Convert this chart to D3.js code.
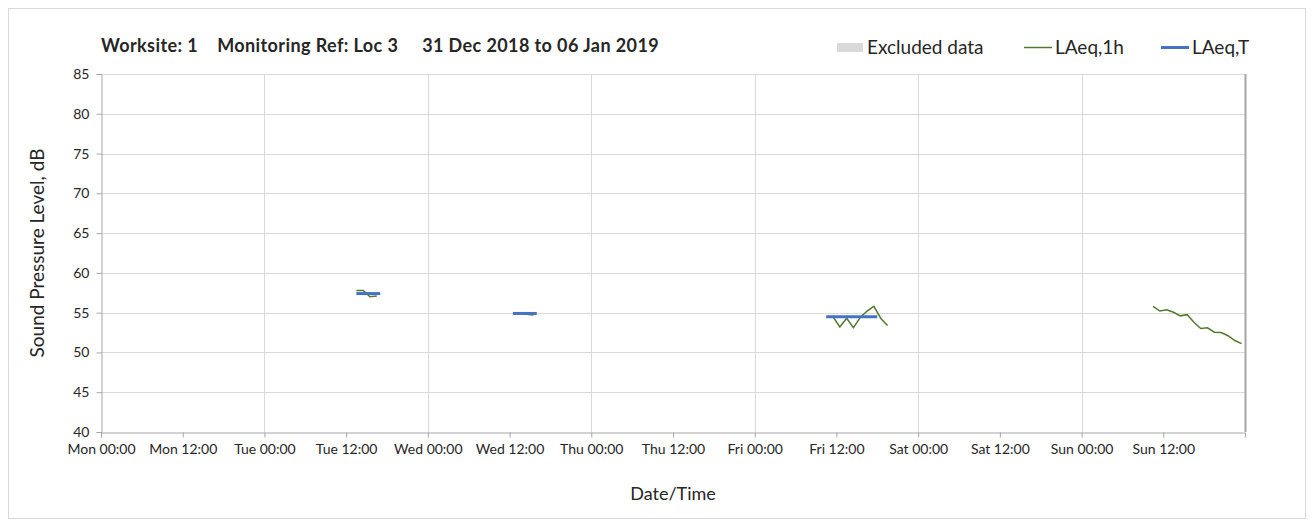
<!DOCTYPE html>
<meta charset="UTF-8">
<style>
  body { margin: 0; background: #fff; }
  svg text { font-family: Lato, "Open Sans", sans-serif; fill: #262626; }
  .grid line { stroke: #d9d9d9; stroke-width: 1px; }
</style>
<body>
<svg id="chart" width="1314" height="527"></svg>

<script src="https://d3js.org/d3.v7.min.js"></script>
<script>

// ---- data ----
var weekStart = "2018-12-31T00:00";
var weekEnd = "2019-01-07T00:00";
var yTicks = [40, 45, 50, 55, 60, 65, 70, 75, 80, 85];

// hourly LAeq,1h (stamped at the middle of the hour)
var tueTimes = ["2019-01-01T13:30", "2019-01-01T14:30", "2019-01-01T15:30", "2019-01-01T16:30"];
var tueLevels = [57.8, 57.8, 57.0, 57.1];
var wedTimes = ["2019-01-02T12:30", "2019-01-02T13:30", "2019-01-02T14:30", "2019-01-02T15:30"];
var wedLevels = [55.0, 54.95, 54.8, 54.7];
var friTimes = ["2019-01-04T11:30", "2019-01-04T12:30", "2019-01-04T13:30", "2019-01-04T14:30",
                "2019-01-04T15:30", "2019-01-04T16:30", "2019-01-04T17:30", "2019-01-04T18:30",
                "2019-01-04T19:30"];
var friLevels = [54.5, 53.2, 54.3, 53.1, 54.4, 55.2, 55.8, 54.3, 53.4];
var sunTimes = ["2019-01-06T10:30", "2019-01-06T11:30", "2019-01-06T12:30", "2019-01-06T13:30",
                "2019-01-06T14:30", "2019-01-06T15:30", "2019-01-06T16:30", "2019-01-06T17:30",
                "2019-01-06T18:30", "2019-01-06T19:30", "2019-01-06T20:30", "2019-01-06T21:30",
                "2019-01-06T22:30", "2019-01-06T23:30"];
var sunLevels = [55.8, 55.2, 55.35, 55.05, 54.6, 54.75, 53.8, 53.0, 53.1, 52.55, 52.5, 52.1, 51.5, 51.1];

// LAeq,T over each monitoring period
var periodStarts = ["2019-01-01T13:30", "2019-01-02T12:30", "2019-01-04T10:30"];
var periodEnds = ["2019-01-01T17:00", "2019-01-02T16:00", "2019-01-04T18:00"];
var periodLevels = [57.4, 54.9, 54.5];

var title = "Worksite: 1    Monitoring Ref: Loc 3     31 Dec 2018 to 06 Jan 2019";
var legendNames = ["Excluded data", "LAeq,1h", "LAeq,T"];
// ---------------------------------------

var parse = d3.timeParse("%Y-%m-%dT%H:%M");
var dayNames = ["Sun", "Mon", "Tue", "Wed", "Thu", "Fri", "Sat"];

var margin = {left: 101, right: 69, top: 74, bottom: 95};
var width = 1314 - margin.left - margin.right,
    height = 527 - margin.top - margin.bottom;

var svg = d3.select("#chart");

// outer frame
svg.append("rect")
    .attr("x", 8.5).attr("y", 8.5)
    .attr("width", 1297).attr("height", 510)
    .attr("fill", "none").attr("stroke", "#d9d9d9");

var g = svg.append("g")
    .attr("transform", "translate(" + margin.left + "," + margin.top + ")");

var x = d3.scaleTime()
    .domain([parse(weekStart), parse(weekEnd)])
    .range([0, width]);

var y = d3.scaleLinear()
    .domain([40, 85])
    .range([height, 0]);

// 12-hourly labels, none at the closing Monday
var halfDays = d3.timeHour.every(12).range(parse(weekStart), parse(weekEnd));
var days = d3.timeDay.range(parse(weekStart), parse(weekEnd));

// gridlines
g.append("g").attr("class", "grid")
  .selectAll("line").data(yTicks.slice(1))
  .enter().append("line")
    .attr("x1", 0).attr("x2", width)
    .attr("y1", function(d) { return Math.round(y(d)) + 0.5; })
    .attr("y2", function(d) { return Math.round(y(d)) + 0.5; });

g.append("g").attr("class", "grid")
  .selectAll("line").data(days.slice(1))
  .enter().append("line")
    .attr("x1", function(d) { return Math.round(x(d)) + 0.5; })
    .attr("x2", function(d) { return Math.round(x(d)) + 0.5; })
    .attr("y1", 0).attr("y2", height);

// right border of plot
g.append("line")
    .attr("x1", width + 0.5).attr("x2", width + 0.5)
    .attr("y1", 0).attr("y2", height)
    .attr("stroke", "#a6a6a6").attr("stroke-width", 2);

// axes
g.append("g")
    .attr("class", "axis")
    .attr("transform", "translate(0.5,0)")
    .call(d3.axisLeft(y).tickValues(yTicks).tickSize(5).tickPadding(7));

g.append("g")
    .attr("class", "axis")
    .attr("transform", "translate(0," + (height + 0.5) + ")")
    .call(d3.axisBottom(x)
      .tickValues(halfDays)
      .tickSize(5)
      .tickPadding(7)
      .tickFormat(function(d) { return dayNames[d.getDay()] + " " + d3.timeFormat("%H:%M")(d); }));

g.selectAll(".axis path, .axis line").attr("stroke", "#a6a6a6");
g.selectAll(".axis .tick text")
    .style("font-size", "14px")
    .style("font-family", "Lato, sans-serif")
    .attr("fill", "#404040");

// series
var line = d3.line()
    .x(function(d) { return x(d.t); })
    .y(function(d) { return y(d.v); });

var hourly = [[tueTimes, tueLevels], [wedTimes, wedLevels], [friTimes, friLevels], [sunTimes, sunLevels]];

hourly.forEach(function(s) {
  var pts = s[0].map(function(t, i) { return {t: parse(t), v: s[1][i]}; });
  g.append("path")
      .datum(pts)
      .attr("d", line)
      .attr("fill", "none")
      .attr("stroke", "#55782f")
      .attr("stroke-width", 1.5);
});

g.selectAll(".laeqT")
  .data(periodLevels)
  .enter().append("line")
    .attr("class", "laeqT")
    .attr("x1", function(d, i) { return x(parse(periodStarts[i])); })
    .attr("x2", function(d, i) { return x(parse(periodEnds[i])); })
    .attr("y1", function(d) { return y(d); })
    .attr("y2", function(d) { return y(d); })
    .attr("stroke", "#4472c4")
    .attr("stroke-width", 3);

// title
svg.append("text")
    .attr("x", 101).attr("y", 52)
    .attr("xml:space", "preserve")
    .style("white-space", "pre")
    .style("font-size", "18px")
    .style("font-weight", "bold")
    .style("letter-spacing", "0.4px")
    .attr("fill", "#000")
    .text(title);

// legend
var legend = svg.append("g");
legend.append("rect")
    .attr("x", 837).attr("y", 43).attr("width", 26).attr("height", 9)
    .attr("fill", "#d9d9d9");
legend.append("line")
    .attr("x1", 1024).attr("x2", 1052).attr("y1", 47.5).attr("y2", 47.5)
    .attr("stroke", "#55782f").attr("stroke-width", 1.5);
legend.append("line")
    .attr("x1", 1161).attr("x2", 1189).attr("y1", 47.5).attr("y2", 47.5)
    .attr("stroke", "#4472c4").attr("stroke-width", 3);
var legendX = [867, 1055, 1192];
legend.selectAll("text.leg")
  .data(legendNames)
  .enter().append("text")
    .attr("class", "leg")
    .attr("x", function(d, i) { return legendX[i]; })
    .attr("y", 54)
    .style("font-size", "19px")
    .text(function(d) { return d; });

// axis titles
svg.append("text")
    .attr("transform", "translate(44," + (margin.top + height / 2) + ") rotate(-90)")
    .attr("text-anchor", "middle")
    .style("font-size", "19px")
    .text("Sound Pressure Level, dB");

svg.append("text")
    .attr("x", margin.left + width / 2)
    .attr("y", 500)
    .attr("text-anchor", "middle")
    .style("font-size", "18px")
    .text("Date/Time");

</script>
</body>
